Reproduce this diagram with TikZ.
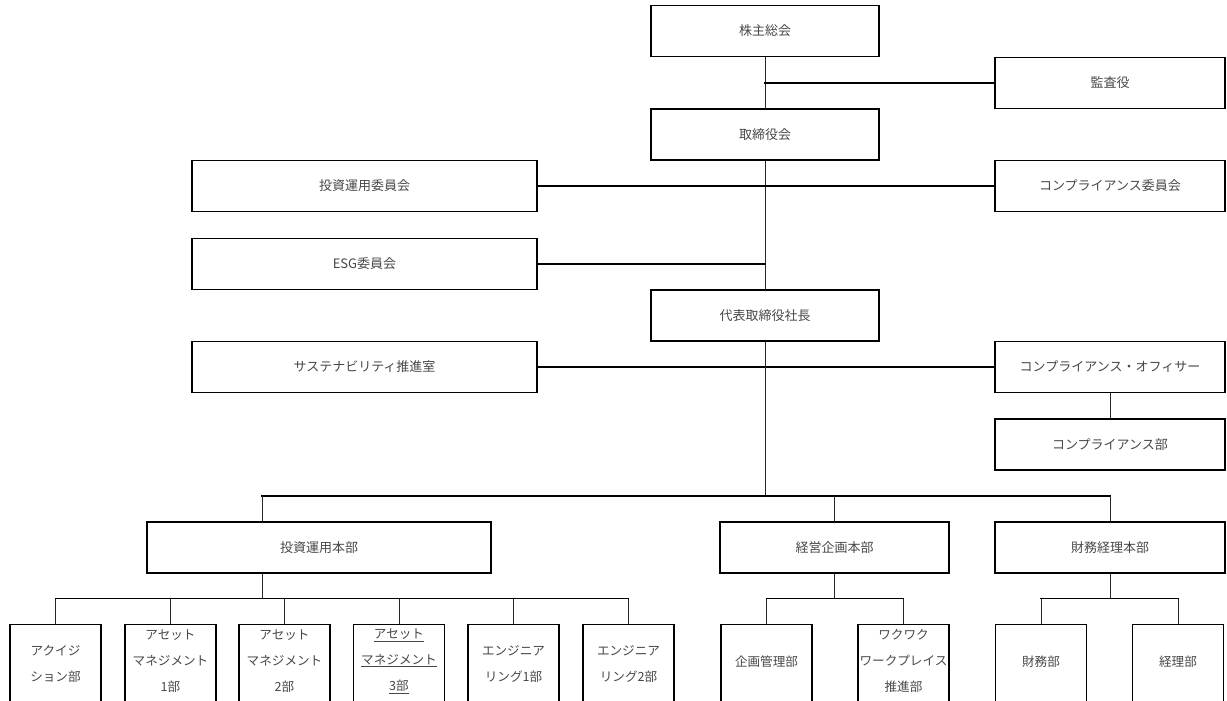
\documentclass[tikz,border=0pt]{standalone}
\usepackage{fontspec}
\newfontfamily\jp{Noto Sans CJK JP}
\begin{document}
\begin{tikzpicture}[x=1pt,y=-1pt,
  box/.style={draw=black, line width=1.1pt, inner sep=0pt, text=black!72,
    font=\jp\fontsize{13}{26}\selectfont, align=center},
  cbox/.style={box, minimum width=228pt, minimum height=51pt},
  rbox/.style={box, minimum width=230pt, minimum height=51pt},
  lbox/.style={box, minimum width=345pt, minimum height=51pt},
  sbox/.style={box, minimum width=91pt, minimum height=90pt, anchor=north},
  lbl/.style={inner sep=0pt, text=black!72, font=\jp\fontsize{12.6}{26}\selectfont, align=center},
  hline/.style={line width=1.4pt, line cap=rect},
  vline/.style={line width=0.8pt, black!85}]
\useasboundingbox (0,0) rectangle (1227,701);
\clip (0,0) rectangle (1227,701);

% top column
\node[cbox] (kabu) at (765,31) {株主総会};
\node[rbox] (kansa) at (1110,83) {監査役};
\node[cbox] (tori) at (765,134.5) {取締役会};
\node[lbox] (toiin) at (364.5,186) {投資運用委員会};
\node[rbox] (compiin) at (1110,186) {コンプライアンス委員会};
\node[lbox] (esg) at (364.5,264) {ESG委員会};
\node[cbox] (ceo) at (765,315.5) {代表取締役社長};
\node[lbox] (sust) at (364.5,367) {サステナビリティ推進室};
\node[rbox] (co) at (1110,367) {コンプライアンス・オフィサー};
\node[rbox] (cd) at (1110,444.5) {コンプライアンス部};

% headquarters
\node[box, minimum width=344pt, minimum height=51pt] (thq) at (319,547.5) {投資運用本部};
\node[box, minimum width=229pt, minimum height=51pt] (khq) at (834.5,547.5) {経営企画本部};
\node[rbox] (zhq) at (1110,547.5) {財務経理本部};

% bottom boxes
\node[sbox] (b1) at (55.5,624) {};
\node[sbox] (b2) at (170.5,624) {};
\node[sbox] (b3) at (284.5,624) {};
\node[sbox] (b4) at (399,624) {};
\node[sbox] (b5) at (513.5,624) {};
\node[sbox] (b6) at (628.5,624) {};
\node[sbox] (b7) at (766.5,624) {};
\node[sbox] (b8) at (903.5,624) {};
\node[sbox] (b9) at (1041,624) {};
\node[sbox] (b10) at (1178,624) {};

\node[lbl] (t1) at (55.5,664) {アクイジ\\ション部};
\node[lbl] (t2) at (170.5,661) {アセット\\マネジメント\\1部};
\node[lbl] (t3) at (284.5,661) {アセット\\マネジメント\\2部};
\node[lbl] (t4) at (399,661) {\underline{アセット}\\\underline{マネジメント}\\\underline{3部}};
\node[lbl] (t5) at (513.5,664) {エンジニア\\リング1部};
\node[lbl] (t6) at (628.5,664) {エンジニア\\リング2部};
\node[lbl] (t7) at (766.5,662) {企画管理部};
\node[lbl] (t8) at (903.5,661) {ワクワク\\ワークプレイス\\推進部};
\node[lbl] (t9) at (1041,662) {財務部};
\node[lbl] (t10) at (1178,662) {経理部};

% coordinates for buses
\coordinate (busc) at (765,496);
\coordinate (tj) at (262,496);
\coordinate (tlow) at (262,598.5);
\coordinate (klow) at (834.5,598.5);
\coordinate (zlow) at (1110,598.5);

% connectors: top
\draw[vline] (kabu.south) -- (tori.north);
\draw[hline] (kabu.south |- kansa.west) -- (kansa.west);
\draw[vline] (tori.south) -- (ceo.north);
\draw[hline] (toiin.east) -- (compiin.west);
\draw[hline] (esg.east) -- (esg.east -| ceo.north);
\draw[hline] (sust.east) -- (co.west);
\draw[vline] (co.south) -- (cd.north);
\draw[vline] (ceo.south) -- (busc);

% main bus
\draw[hline] (tj) -- (busc -| zhq.north);
\draw[vline] (tj) -- (tj |- thq.north);
\draw[vline] (busc -| khq.north) -- (khq.north);
\draw[vline] (busc -| zhq.north) -- (zhq.north);

% lower buses
\draw[vline] (tj |- thq.south) -- (tlow);
\draw[hline] (tlow -| b1.north) -- (tlow -| b6.north);
\foreach \b in {b1,b2,b3,b4,b5,b6} \draw[vline] (tlow -| \b.north) -- (\b.north);
\draw[vline] (khq.south) -- (klow);
\draw[hline] (klow -| b7.north) -- (klow -| b8.north);
\foreach \b in {b7,b8} \draw[vline] (klow -| \b.north) -- (\b.north);
\draw[vline] (zhq.south) -- (zlow);
\draw[hline] (zlow -| b9.north) -- (zlow -| b10.north);
\foreach \b in {b9,b10} \draw[vline] (zlow -| \b.north) -- (\b.north);
\end{tikzpicture}
\end{document}
